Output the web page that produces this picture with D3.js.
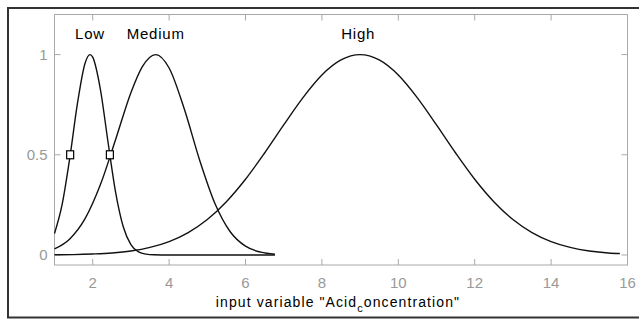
<!DOCTYPE html>
<html>
<head>
<meta charset="utf-8">
<script src="https://cdn.jsdelivr.net/npm/d3@7/dist/d3.min.js"></script>
<style>
    body { margin: 0; background: #fff; }
    text { font-family: "Liberation Sans", Arial, sans-serif; }
</style>
</head>
<body>
<div id="chart"></div>
<script>
// membership function curves
var lowX = [1.0, 1.2, 1.4, 1.6, 1.8, 1.93, 2.0, 2.2, 2.4, 2.6, 2.8, 3.0, 3.2, 3.4, 3.6, 4.0, 5.0, 6.0, 6.77];
var lowY = [0.107, 0.252, 0.484, 0.755, 0.957, 1.0, 0.987, 0.828, 0.565, 0.313, 0.141, 0.052, 0.015, 0.004, 0.001, 0, 0, 0, 0];

var mediumX = [1.0, 1.4, 1.8, 2.2, 2.6, 3.0, 3.3, 3.65, 4.0, 4.4, 4.8, 5.2, 5.6, 6.0, 6.4, 6.77];
var mediumY = [0.030, 0.080, 0.181, 0.350, 0.576, 0.810, 0.940, 1.0, 0.933, 0.727, 0.473, 0.257, 0.116, 0.044, 0.014, 0.004];

var highX = [1, 1.5, 2, 2.5, 3, 3.5, 4, 4.5, 5, 5.5, 6, 6.5, 7, 7.5, 8, 8.5, 9,
             9.5, 10, 10.5, 11, 11.5, 12, 12.5, 13, 13.5, 14, 14.5, 15, 15.5, 15.8];
var highY = [0.001, 0.002, 0.005, 0.010, 0.020, 0.038, 0.067, 0.112, 0.177, 0.266, 0.378, 0.509, 0.649, 0.784, 0.898, 0.973, 1.0,
             0.973, 0.898, 0.784, 0.649, 0.509, 0.378, 0.266, 0.177, 0.112, 0.067, 0.038, 0.020, 0.010, 0.007];

var mfNames = ["Low", "Medium", "High"];
var mfPeaks = [1.93, 3.65, 8.95];

// square markers on the selected set (Low)
var markerX = [1.41, 2.45];
var markerY = [0.5, 0.5];

var xTicks = [2, 4, 6, 8, 10, 12, 14, 16];
var yTicks = [0, 0.5, 1];
var xTitle = ["input variable \"Acid", "c", "oncentration\""];

function go() {
    var width = 639, height = 320;
    var svg = d3.select("#chart").append("svg")
        .attr("width", width)
        .attr("height", height);

    // window frame
    svg.append("path")
        .attr("d", "M" + width + ",8 H8 V317.5 H" + width)
        .attr("fill", "none")
        .attr("stroke", "#333")
        .attr("stroke-width", 2);

    var left = 54.5, right = 627.5, top = 14.5, bottom = 265;
    var x = d3.scaleLinear().domain([1, 16]).range([left, right]);
    var y = d3.scaleLinear().domain([-0.05, 1.2]).range([bottom, top]);

    var axisColor = "#a9a9a9";
    var tickLen = 6;

    // ticks on all four sides, pointing inward
    var g = svg.append("g");
    xTicks.forEach(function (t) {
        g.append("line").attr("x1", x(t)).attr("x2", x(t)).attr("y1", bottom).attr("y2", bottom - tickLen).attr("stroke", axisColor);
        g.append("line").attr("x1", x(t)).attr("x2", x(t)).attr("y1", top).attr("y2", top + tickLen).attr("stroke", axisColor);
        g.append("text")
            .attr("x", x(t))
            .attr("y", bottom + 23)
            .attr("text-anchor", "middle")
            .attr("fill", "#999")
            .style("font-size", "15px")
            .text(t);
    });
    yTicks.forEach(function (t) {
        g.append("line").attr("x1", left).attr("x2", left + tickLen).attr("y1", y(t)).attr("y2", y(t)).attr("stroke", axisColor);
        g.append("line").attr("x1", right).attr("x2", right - tickLen).attr("y1", y(t)).attr("y2", y(t)).attr("stroke", axisColor);
        g.append("text")
            .attr("x", left - 7)
            .attr("y", y(t))
            .attr("dy", "0.35em")
            .attr("text-anchor", "end")
            .attr("fill", "#999")
            .style("font-size", "15px")
            .text(t);
    });

    g.append("rect")
        .attr("x", left).attr("y", top)
        .attr("width", right - left).attr("height", bottom - top)
        .attr("fill", "none")
        .attr("stroke", axisColor);

    var line = d3.line()
        .curve(d3.curveMonotoneX)
        .x(function (d) { return x(d[0]); })
        .y(function (d) { return y(d[1]); });

    var curves = [d3.zip(lowX, lowY), d3.zip(mediumX, mediumY), d3.zip(highX, highY)];
    svg.selectAll(".mf")
        .data(curves)
        .enter().append("path")
        .attr("class", "mf")
        .attr("d", line)
        .attr("fill", "none")
        .attr("stroke", "#111")
        .attr("stroke-width", 1.4);

    svg.selectAll(".mflabel")
        .data(mfNames)
        .enter().append("text")
        .attr("class", "mflabel")
        .attr("x", function (d, i) { return x(mfPeaks[i]); })
        .attr("y", y(1) - 16)
        .attr("text-anchor", "middle")
        .attr("fill", "#000")
        .style("font-size", "15px")
        .style("letter-spacing", "0.8px")
        .text(function (d) { return d; });

    svg.selectAll(".marker")
        .data(markerX)
        .enter().append("rect")
        .attr("class", "marker")
        .attr("x", function (d) { return x(d) - 3.5; })
        .attr("y", function (d, i) { return y(markerY[i]) - 4; })
        .attr("width", 7)
        .attr("height", 8)
        .attr("fill", "#fff")
        .attr("stroke", "#000")
        .attr("stroke-width", 1.2);

    var title = svg.append("text")
        .attr("x", 338)
        .attr("y", 307)
        .attr("text-anchor", "middle")
        .attr("fill", "#000")
        .style("font-size", "14px")
        .style("letter-spacing", "1.1px");
    title.append("tspan").text(xTitle[0]);
    title.append("tspan").attr("dy", 5).style("font-size", "11px").text(xTitle[1]);
    title.append("tspan").attr("dy", -5).text(xTitle[2]);
}

document.addEventListener("DOMContentLoaded", function () {
    go();
});
</script>
</body>
</html>
